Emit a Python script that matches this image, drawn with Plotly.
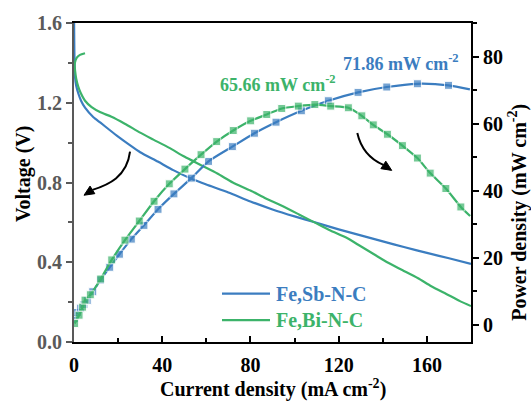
import math
import plotly.graph_objects as go

# ---------------- data ----------------
# Polarization (voltage) curves
i_sb_v = [0.03, 0.08, 0.15, 0.25, 0.45, 1.0, 2.0, 3.2, 5.0, 8.8, 12.0, 16.3, 20.0, 25.0, 30.0,
          38.0, 45.0, 53.0, 60.0, 70.0, 80.0, 90.0, 100.0, 110.0, 120.0, 130.0, 140.0, 150.0,
          160.0, 170.0, 180.0]
v_sb = [1.62, 1.55, 1.47, 1.40, 1.33, 1.285, 1.245, 1.21, 1.175, 1.127, 1.10, 1.062, 1.03, 0.99,
        0.952, 0.905, 0.862, 0.82, 0.79, 0.75, 0.705, 0.665, 0.63, 0.598, 0.565, 0.535, 0.505,
        0.475, 0.447, 0.42, 0.392]

i_bi_v = [5.0, 2.7, 1.2, 0.4, 0.3, 0.5, 1.0, 2.0, 3.0, 5.0, 8.0, 12.0, 17.0, 23.0, 30.0, 36.0,
          43.0, 50.0, 57.0, 65.0, 72.0, 80.0, 87.0, 94.0, 102.0, 109.0, 116.0, 124.0, 130.0,
          136.0, 142.0, 149.0, 156.0, 162.0, 169.0, 175.0, 180.0]
v_bi = [1.448, 1.44, 1.425, 1.40, 1.385, 1.36, 1.32, 1.278, 1.25, 1.21, 1.178, 1.152, 1.13, 1.095,
        1.05, 1.015, 0.975, 0.93, 0.89, 0.845, 0.80, 0.76, 0.72, 0.685, 0.64, 0.60, 0.56, 0.52,
        0.48, 0.44, 0.40, 0.36, 0.32, 0.28, 0.24, 0.205, 0.18]

# Power density curves
i_sb_p = [0.3, 1.5, 3.0, 4.5, 6.0, 8.5, 12.0, 16.2, 20.6, 26.0, 31.7, 38.1, 45.3, 53.2, 61.0,
          71.8, 81.8, 91.6, 103.1, 115.3, 128.8, 141.8, 155.7, 169.8, 179.5]
p_sb = [1.8, 3.6, 4.9, 6.0, 7.2, 9.8, 13.3, 17.1, 21.0, 25.5, 29.6, 34.4, 39.0, 43.7, 48.7, 53.1,
        57.1, 60.4, 63.8, 66.8, 69.3, 70.9, 71.86, 71.4, 70.2]

i_bi_p = [0.3, 2.3, 3.9, 5.0, 7.4, 12.1, 17.1, 23.1, 29.6, 36.3, 43.2, 50.3, 57.6, 64.7, 72.2,
          80.1, 87.4, 94.2, 101.7, 109.2, 116.4, 124.4, 130.5, 135.7, 142.1, 148.9, 155.7, 161.5,
          168.6, 175.4, 179.6]
p_bi = [0.3, 2.8, 5.2, 7.3, 8.9, 13.6, 19.3, 25.2, 30.9, 36.8, 42.0, 46.4, 50.7, 54.6, 57.9, 60.8,
        62.7, 64.5, 65.2, 65.66, 65.2, 64.7, 62.3, 59.6, 56.8, 53.4, 49.7, 45.2, 40.6, 35.1, 32.4]

names = ["Fe,Sb-N-C", "Fe,Bi-N-C"]
peak_labels = ["71.86 mW cm<sup>-2</sup>", "65.66 mW cm<sup>-2</sup>"]

x_ticks = [0, 40, 80, 120, 160]
y_ticks = [0.0, 0.4, 0.8, 1.2, 1.6]
y2_ticks = [0, 20, 40, 60, 80]

# ---------------- styling ----------------
BLUE = "#3B7DC0"
GREEN = "#3CB36A"
FONT = "Liberation Serif"
W, H = 531, 403
L, R, T, B = 74, 60, 21, 61
PW, PH = W - L - R, H - T - B


def px(x):
    return (x - L) / PW


def py(y):
    return (H - B - y) / PH


fig = go.Figure()

LW = 2.2
fig.add_trace(go.Scatter(x=i_sb_v, y=v_sb, mode="lines", showlegend=False, name=names[0],
                         line=dict(color=BLUE, width=LW, shape="spline", smoothing=0.6)))
fig.add_trace(go.Scatter(x=i_bi_v, y=v_bi, mode="lines", showlegend=False, name=names[1],
                         line=dict(color=GREEN, width=LW, shape="spline", smoothing=0.6)))

msize_sb = [8] * (len(i_sb_p) - 1) + [0]
msize_bi = [8] * (len(i_bi_p) - 1) + [0]
fig.add_trace(go.Scatter(x=i_sb_p, y=p_sb, yaxis="y2", mode="lines+markers", showlegend=False,
                         line=dict(color=BLUE, width=LW, shape="spline", smoothing=0.6),
                         marker=dict(symbol="square", size=msize_sb, color=BLUE)))
fig.add_trace(go.Scatter(x=i_bi_p, y=p_bi, yaxis="y2", mode="lines+markers", showlegend=False,
                         line=dict(color=GREEN, width=LW, shape="spline", smoothing=0.6),
                         marker=dict(symbol="square", size=msize_bi, color=GREEN)))

tickfont_black = dict(family=FONT, size=20, color="black", weight="bold")
tickfont_grey = dict(family=FONT, size=20, color="#5a5a5a", weight="bold")

fig.update_layout(
    width=W, height=H,
    margin=dict(l=L, r=R, t=T, b=B),
    paper_bgcolor="white", plot_bgcolor="white",
    showlegend=False,
    xaxis=dict(range=[0, 180], tickvals=x_ticks, ticktext=[str(v) for v in x_ticks],
               showline=True, linecolor="black", linewidth=2, mirror=True,
               ticks="inside", ticklen=6, tickwidth=2, tickcolor="black",
               minor=dict(ticks="inside", ticklen=4, tickwidth=2, dtick=20, tickcolor="black"),
               showgrid=False, zeroline=False, tickfont=tickfont_black, ticklabelstandoff=4),
    yaxis=dict(range=[0, 1.6], tickvals=y_ticks, ticktext=[f"{v:.1f}" for v in y_ticks],
               showline=True, linecolor="#595959", linewidth=2,
               ticks="outside", ticklen=6, tickwidth=2, tickcolor="#595959",
               minor=dict(ticks="outside", ticklen=4, tickwidth=2, dtick=0.2, tickcolor="#595959"),
               showgrid=False, zeroline=False, tickfont=tickfont_grey),
    yaxis2=dict(range=[-5.2, 90], overlaying="y", side="right", tickvals=y2_ticks,
                ticktext=[str(v) for v in y2_ticks],
                showline=True, linecolor="black", linewidth=2,
                ticks="outside", ticklen=6, tickwidth=2, tickcolor="black",
                minor=dict(ticks="outside", ticklen=4, tickwidth=2, dtick=10, tickcolor="black"),
                showgrid=False, zeroline=False, tickfont=tickfont_black),
)

title_font = dict(family=FONT, size=20, color="black", weight="bold")
fig.add_annotation(text="Current density (mA cm<sup>-2</sup>)", xref="paper", yref="paper",
                   x=px(272.5), y=py(389), xanchor="center", yanchor="middle", showarrow=False,
                   font=title_font)
fig.add_annotation(text="Voltage (V)", xref="paper", yref="paper", textangle=-90,
                   x=px(23), y=py(173), xanchor="center", yanchor="middle", showarrow=False,
                   font=title_font)
fig.add_annotation(text="Power density (mW cm<sup>-2</sup>)", xref="paper", yref="paper", textangle=-90,
                   x=px(518), y=py(212), xanchor="center", yanchor="middle", showarrow=False,
                   font=title_font)

# peak labels
fig.add_annotation(text=peak_labels[0], xref="paper", yref="paper", x=px(341), y=py(61),
                   xanchor="left", yanchor="middle", showarrow=False,
                   font=dict(family=FONT, size=18, color=BLUE, weight="bold"))
fig.add_annotation(text=peak_labels[1], xref="paper", yref="paper", x=px(218), y=py(82),
                   xanchor="left", yanchor="middle", showarrow=False,
                   font=dict(family=FONT, size=18, color=GREEN, weight="bold"))

# legend (drawn as sample lines + coloured labels)
for k, (name, col, yy) in enumerate(zip(names, [BLUE, GREEN], [293.3, 320.0])):
    fig.add_shape(type="line", xref="paper", yref="paper", x0=px(222), x1=px(270),
                  y0=py(yy), y1=py(yy), line=dict(color=col, width=LW))
    fig.add_annotation(text=name, xref="paper", yref="paper", x=px(274), y=py(yy),
                       xanchor="left", yanchor="middle", showarrow=False,
                       font=dict(family=FONT, size=20, color=col, weight="bold"))


# curved arrows with filled heads
def arrow(p0, p1, p2, tip, d, hl=10.0, hw=4.5):
    n = math.hypot(*d)
    ux, uy = d[0] / n, d[1] / n
    bx, by = tip[0] - ux * hl, tip[1] - uy * hl
    s = "M {:.4f},{:.4f} C ".format(px(p0[0]), py(p0[1]))
    s += " ".join("{:.4f},{:.4f}".format(px(a), py(b)) for a, b in [p1, p2, (bx, by)])
    fig.add_shape(type="path", xref="paper", yref="paper", path=s,
                  line=dict(color="black", width=2))
    c1 = (bx - uy * hw, by + ux * hw)
    c2 = (bx + uy * hw, by - ux * hw)
    tri = "M {:.4f},{:.4f} L {:.4f},{:.4f} L {:.4f},{:.4f} Z".format(
        px(tip[0]), py(tip[1]), px(c1[0]), py(c1[1]), px(c2[0]), py(c2[1]))
    fig.add_shape(type="path", xref="paper", yref="paper", path=tri,
                  fillcolor="black", line=dict(color="black", width=1))


arrow((130, 150.5), (127, 176), (108, 184), (84, 194.3), (-33, 21))
arrow((357.3, 131.7), (361, 148), (370, 158), (391.7, 169.3), (35, 23))

fig.write_html("out.html")
